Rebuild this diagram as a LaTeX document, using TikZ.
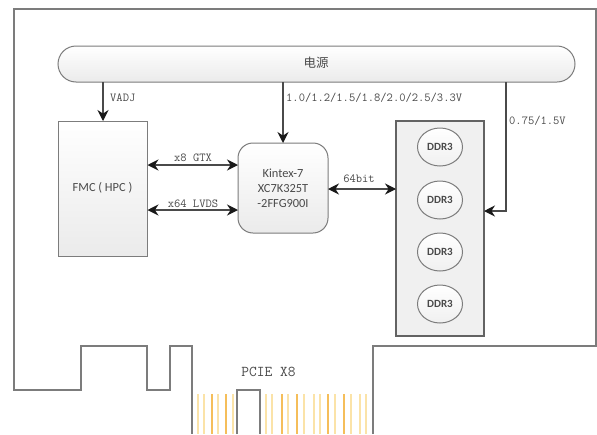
\documentclass[tikz,border=0pt]{standalone}
\usepackage{fontspec}
\setmainfont{Carlito}
\newfontfamily\cjkf{Noto Sans CJK SC}
\usetikzlibrary{arrows.meta,shapes.geometric}
\definecolor{edgeg}{HTML}{7C7C7C}
\definecolor{inkg}{HTML}{4A4A4A}
\definecolor{pale}{HTML}{FBE3A8}
\definecolor{gold}{HTML}{F5BE5A}
\tikzset{
  x=1pt,y=-1pt,
  boxg/.style={draw=edgeg,line width=1pt,inner sep=0pt,outer sep=0pt,top color=white,bottom color=black!8,shading angle=0},
  panelbox/.style={draw=edgeg!80!black,line width=1.1pt,inner sep=0pt,outer sep=0pt,fill=black!6},
  memchip/.style={ellipse,draw=edgeg,line width=1pt,inner sep=0pt,outer sep=0pt,minimum width=45pt,minimum height=38pt,top color=white,bottom color=black!6,text=inkg,font=\fontsize{11}{12}\selectfont\bfseries},
  sanslabel/.style={text=inkg,font=\fontsize{12.4}{15}\selectfont,align=center},
  monolabel/.style={text=inkg,inner sep=0pt,font=\fontsize{12.2}{14}\ttfamily},
  wire/.style={draw=inkg,line width=1.3pt},
  onearrow/.style={wire,-{Stealth[length=11pt,width=11pt,color=black!90]}},
  twoarrow/.style={wire,{Stealth[length=11pt,width=11pt,color=black!90]}-{Stealth[length=11pt,width=11pt,color=black!90]}},
  boardline/.style={draw=edgeg,line width=1.3pt},
  fingerpale/.style={draw=pale,line width=1.6pt},
  fingergold/.style={draw=gold,line width=2pt}
}
\begin{document}
\begin{tikzpicture}
\useasboundingbox (0,0) rectangle (597,434);
\fill[white] (0,0) rectangle (597,434);
% gold fingers
\foreach \p in {198,204,218,233,266,272,288,304,314,320,335,351,360,366}
  \draw[fingerpale] (\p,394) -- (\p,434);
\foreach \p in {212,226,282,297,328,344}
  \draw[fingergold] (\p,394) -- (\p,434);
% board outline
\draw[boardline] (373,434) -- (373,346) -- (596,346) -- (596,9) -- (14,9) -- (14,390) -- (81,390) -- (81,346) -- (147,346) -- (147,390) -- (170,390) -- (170,346) -- (192,346) -- (192,434);
\draw[boardline] (237,434) -- (237,390) -- (260,390) -- (260,434);
% main shapes
\node[boxg,rounded corners=18pt,minimum width=517pt,minimum height=36pt] (bus) at (316.5,64) {};
\node[text=inkg,font=\fontsize{12.5}{14}\cjkf] (power) at (316,63) {电源};
\node[boxg,minimum width=89pt,minimum height=135pt] (fmc) at (103,188.5) {};
\node[sanslabel] (fmclabel) at (102.5,188) {FMC ( HPC )};
\node[boxg,rounded corners=15pt,minimum width=90pt,minimum height=90pt] (fpga) at (283,188) {};
\node[sanslabel] (fpgalabel) at (283,188) {Kintex-7\\XC7K325T\\-2FFG900I};
\node[panelbox,minimum width=88pt,minimum height=215pt] (panel) at (440,228.5) {};
\node[memchip] (ddra) at (440,147) {DDR3};
\node[memchip] (ddrb) at (440,200) {DDR3};
\node[memchip] (ddrc) at (440,252) {DDR3};
\node[memchip] (ddrd) at (440,304) {DDR3};
% routing points
\coordinate (gtx) at (0,165);
\coordinate (lvds) at (0,210);
\coordinate (bitsy) at (0,189);
\coordinate (ramrail) at (506,211);
% connectors
\draw[onearrow] (bus.south -| fmc.north) -- (fmc.north);
\draw[onearrow] (bus.south -| fpga.north) -- (fpga.north);
\draw[onearrow] (bus.south -| ramrail) -- (ramrail) -- (ramrail -| panel.east);
\draw[twoarrow] (fmc.east |- gtx) -- (fpga.west |- gtx);
\draw[twoarrow] (fmc.east |- lvds) -- (fpga.west |- lvds);
\draw[twoarrow] (fpga.east |- bitsy) -- (panel.west |- bitsy);
% labels
\node[monolabel,anchor=west] (lv) at (110,98) {VADJ};
\node[monolabel,anchor=west] (lc) at (286,98) {1.0/1.2/1.5/1.8/2.0/2.5/3.3V};
\node[monolabel,anchor=west] (ld) at (509,121) {0.75/1.5V};
\node[monolabel] (lg) at (193,158) {x8 GTX};
\node[monolabel] (ll) at (193,204) {x64 LVDS};
\node[monolabel] (lb) at (359,179) {64bit};
\node[monolabel,font=\fontsize{15}{17}\ttfamily] (lp) at (268.5,372) {PCIE X8};
\end{tikzpicture}
\end{document}
